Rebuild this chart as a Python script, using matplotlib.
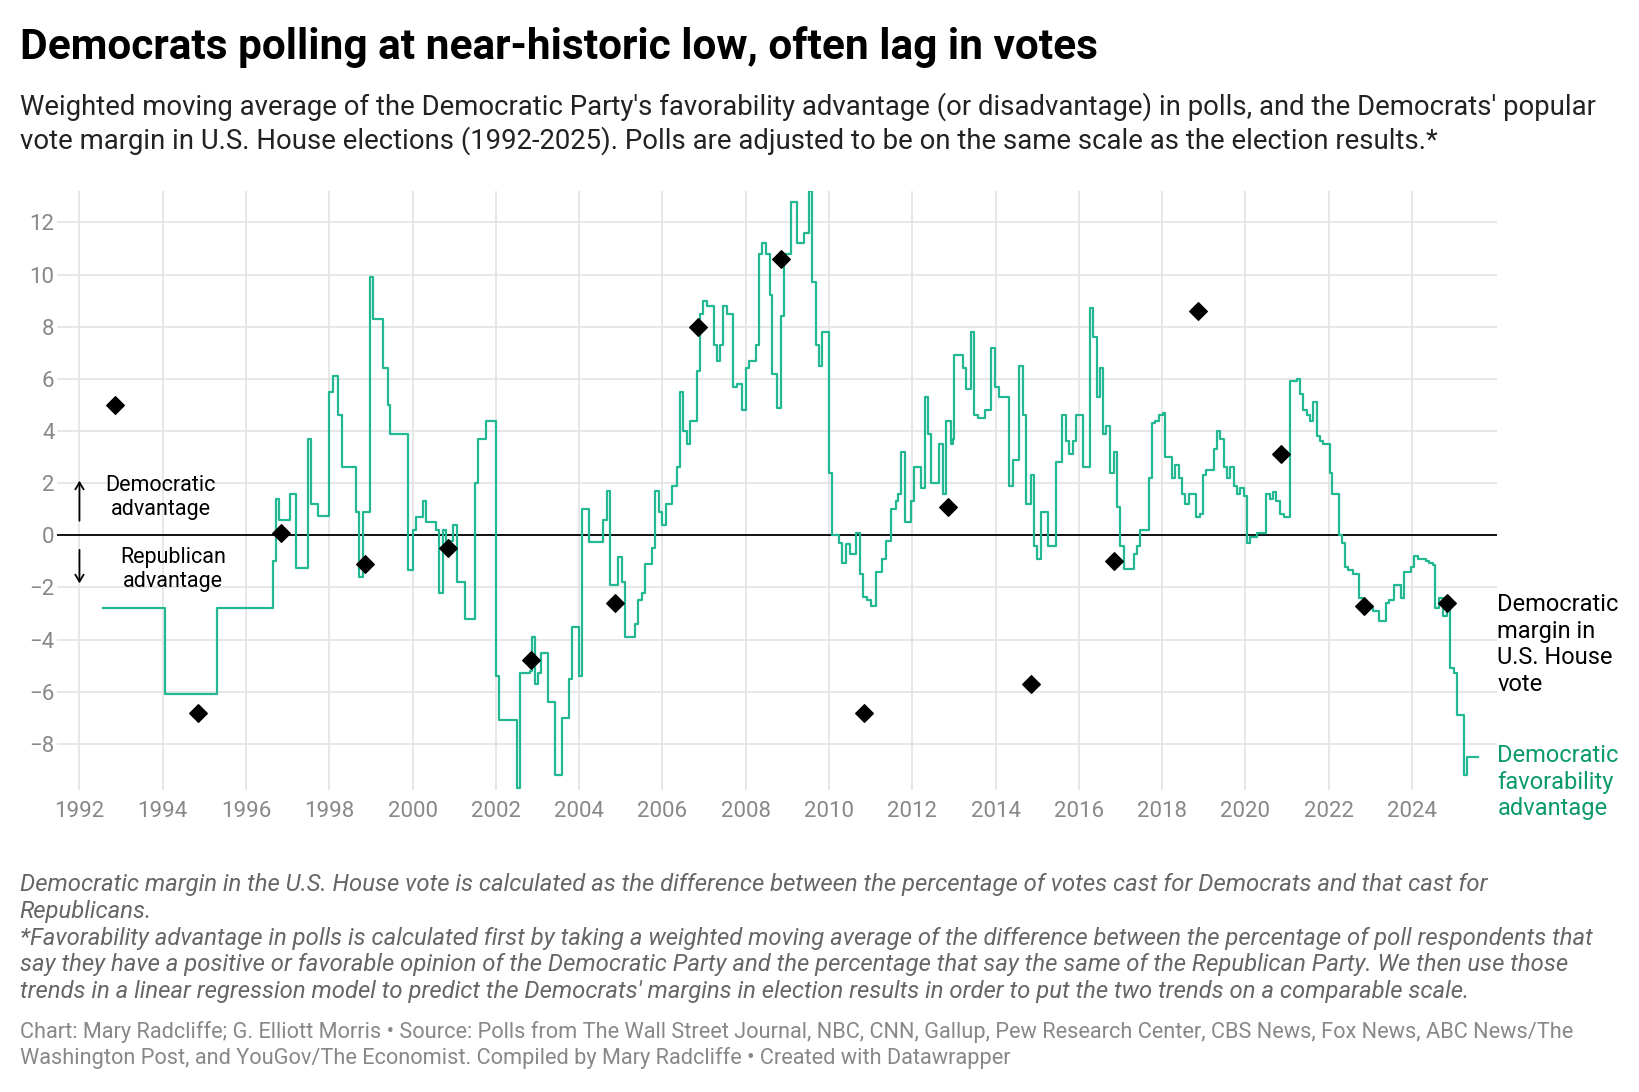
import numpy as np
import matplotlib.pyplot as plt

plt.rcParams['font.family'] = ['Roboto', 'DejaVu Sans']

# favorability advantage (weighted moving average): step breakpoints (year, value)
fav_points = [
    (1992.56, -2.8), (1994.06, -6.1), (1995.3, -2.8), (1996.64, -1.0), (1996.72, 1.4), (1996.8, 0.6),
    (1997.06, 1.6), (1997.2, -1.25), (1997.48, 3.7), (1997.56, 1.2), (1997.72, 0.75), (1998.0, 5.5),
    (1998.08, 6.1), (1998.22, 4.6), (1998.3, 2.6), (1998.64, 0.9), (1998.72, -1.6), (1998.8, 0.9),
    (1998.98, 9.9), (1999.06, 8.3), (1999.3, 6.4), (1999.4, 5.0), (1999.46, 3.9), (1999.9, -1.35),
    (2000.0, 0.2), (2000.08, 0.7), (2000.24, 1.3), (2000.32, 0.5), (2000.56, 0.2), (2000.64, -2.2),
    (2000.72, 0.2), (2000.8, -0.2), (2000.96, 0.4), (2001.07, -1.8), (2001.26, -3.2), (2001.5, 2.0),
    (2001.58, 3.7), (2001.76, 4.4), (2002.0, -5.4), (2002.08, -7.1), (2002.5, -9.7), (2002.58, -5.3),
    (2002.82, -5.2), (2002.87, -3.9), (2002.94, -5.7), (2003.0, -5.3), (2003.08, -4.5), (2003.24, -6.4),
    (2003.42, -9.2), (2003.58, -7.0), (2003.76, -5.5), (2003.84, -3.5), (2004.0, -5.4), (2004.08, 1.0),
    (2004.24, -0.25), (2004.58, 0.6), (2004.66, 1.7), (2004.75, -1.9), (2004.94, -0.85), (2005.02, -1.8),
    (2005.1, -3.9), (2005.34, -3.4), (2005.42, -2.5), (2005.5, -2.2), (2005.58, -1.1), (2005.76, -0.5),
    (2005.82, 1.7), (2005.92, 0.9), (2006.0, 0.4), (2006.08, 1.2), (2006.24, 1.9), (2006.34, 2.6),
    (2006.42, 5.5), (2006.5, 4.0), (2006.58, 3.5), (2006.67, 4.4), (2006.83, 6.3), (2006.91, 8.5),
    (2006.98, 9.0), (2007.06, 8.8), (2007.24, 7.3), (2007.3, 6.7), (2007.38, 7.3), (2007.46, 8.8),
    (2007.54, 8.5), (2007.7, 5.7), (2007.78, 5.8), (2007.9, 4.8), (2008.0, 6.4), (2008.08, 6.7),
    (2008.24, 7.3), (2008.32, 10.8), (2008.4, 11.2), (2008.48, 10.8), (2008.58, 9.2), (2008.64, 6.2),
    (2008.74, 4.9), (2008.84, 8.4), (2008.92, 10.8), (2009.08, 12.8), (2009.24, 11.2), (2009.4, 11.6),
    (2009.52, 13.2), (2009.6, 9.7), (2009.68, 7.3), (2009.76, 6.5), (2009.84, 7.8), (2010.0, 2.4),
    (2010.08, 0.0), (2010.24, -0.3), (2010.32, -1.05), (2010.42, -0.35), (2010.5, -0.7), (2010.66, 0.1),
    (2010.74, -1.5), (2010.82, -2.35), (2010.92, -2.5), (2011.0, -2.7), (2011.12, -1.4), (2011.28, -0.9),
    (2011.36, -0.2), (2011.5, 1.0), (2011.6, 1.3), (2011.66, 1.6), (2011.74, 3.2), (2011.82, 0.5),
    (2011.98, 1.3), (2012.04, 2.6), (2012.22, 1.8), (2012.3, 5.3), (2012.38, 3.9), (2012.46, 2.0),
    (2012.64, 3.5), (2012.74, 1.6), (2012.82, 4.4), (2012.92, 3.5), (2012.98, 3.7), (2013.0, 6.9),
    (2013.22, 6.4), (2013.3, 5.6), (2013.4, 7.8), (2013.48, 4.6), (2013.57, 4.5), (2013.74, 4.8),
    (2013.88, 7.2), (2013.98, 5.7), (2014.08, 5.3), (2014.32, 1.9), (2014.42, 2.9), (2014.56, 6.5),
    (2014.66, 4.6), (2014.74, 1.2), (2014.84, 2.3), (2014.92, -0.4), (2015.0, -0.9), (2015.1, 0.9),
    (2015.26, -0.4), (2015.44, 2.8), (2015.6, 4.6), (2015.68, 3.6), (2015.76, 3.1), (2015.86, 3.6),
    (2015.94, 4.6), (2016.1, 2.6), (2016.26, 8.7), (2016.34, 7.6), (2016.44, 5.3), (2016.52, 6.4),
    (2016.58, 3.9), (2016.66, 4.2), (2016.76, 2.4), (2016.84, 3.2), (2016.92, 1.1), (2017.0, -0.4),
    (2017.08, -1.3), (2017.32, -0.7), (2017.4, -0.4), (2017.48, 0.2), (2017.68, 2.2), (2017.76, 4.3),
    (2017.84, 4.4), (2017.92, 4.6), (2018.02, 4.7), (2018.08, 3.0), (2018.24, 2.2), (2018.32, 2.7),
    (2018.4, 2.2), (2018.48, 1.6), (2018.56, 1.2), (2018.64, 1.6), (2018.82, 0.7), (2018.9, 0.8),
    (2018.98, 2.3), (2019.06, 2.5), (2019.24, 3.3), (2019.32, 4.0), (2019.4, 3.7), (2019.48, 2.6),
    (2019.56, 2.2), (2019.64, 2.6), (2019.72, 1.9), (2019.8, 1.6), (2019.88, 1.8), (2019.96, 1.5),
    (2020.04, -0.3), (2020.12, -0.05), (2020.28, 0.1), (2020.5, 1.6), (2020.58, 1.4), (2020.66, 1.65),
    (2020.74, 1.3), (2020.82, 0.8), (2020.92, 0.7), (2021.07, 5.9), (2021.23, 6.0), (2021.31, 5.4),
    (2021.39, 4.8), (2021.47, 4.6), (2021.55, 4.4), (2021.63, 5.1), (2021.71, 3.8), (2021.79, 3.6),
    (2021.87, 3.5), (2022.02, 2.4), (2022.08, 1.6), (2022.24, 0.0), (2022.32, -0.3), (2022.38, -1.2),
    (2022.46, -1.35), (2022.58, -1.5), (2022.72, -2.4), (2022.82, -2.6), (2022.94, -2.8), (2023.06, -2.9),
    (2023.22, -3.3), (2023.38, -2.6), (2023.46, -2.5), (2023.58, -1.9), (2023.74, -2.4), (2023.82, -1.4),
    (2023.98, -1.2), (2024.06, -0.8), (2024.14, -0.9), (2024.34, -1.0), (2024.42, -1.05), (2024.5, -1.15),
    (2024.56, -2.8), (2024.66, -2.4), (2024.74, -3.1), (2024.84, -2.6), (2024.92, -5.1), (2025.0, -5.3),
    (2025.08, -6.9), (2025.24, -9.2), (2025.32, -8.5), (2025.58, -8.5),
]
fav_years = [p[0] for p in fav_points]
fav_values = [p[1] for p in fav_points]

# Democratic popular vote margin in U.S. House elections
vote_years = [1992, 1994, 1996, 1998, 2000, 2002, 2004, 2006, 2008, 2010, 2012, 2014, 2016, 2018, 2020, 2022, 2024]
vote_margin = [5.0, -6.8, 0.1, -1.1, -0.5, -4.8, -2.6, 8.0, 10.6, -6.8, 1.1, -5.7, -1.0, 8.6, 3.1, -2.7, -2.6]

green = '#22b894'
fig = plt.figure(figsize=(16.4, 10.92), dpi=100)
ax = fig.add_axes([0.035, 0.277, 0.878, 0.548])

ax.step(fav_years, fav_values, where='post', color=green, lw=1.6, zorder=3)
ax.scatter([y + 0.85 for y in vote_years], vote_margin, marker='D', s=80, color='black', zorder=4)
ax.axhline(0, color='black', lw=1.3, zorder=2)

ax.set_xlim(1991.47, 2026.05)
ax.set_ylim(-9.75, 13.2)
ax.set_xticks(range(1992, 2025, 2))
ax.set_yticks(range(-8, 13, 2))
ax.grid(color='#e3e3e3', lw=1.2)
for s in ax.spines.values():
    s.set_visible(False)
ax.tick_params(length=0, labelsize=16, colors='#888888', pad=8)
ax.tick_params(axis='y', pad=2)

# inline annotations
ax.annotate('', xy=(1992.0, 2.2), xytext=(1992.0, 0.45),
            arrowprops=dict(arrowstyle='->,head_length=0.5,head_width=0.3', color='black', lw=1.3))
ax.annotate('', xy=(1992.0, -1.95), xytext=(1992.0, -0.45),
            arrowprops=dict(arrowstyle='->,head_length=0.5,head_width=0.3', color='black', lw=1.3))
ax.text(1993.95, 1.45, 'Democratic\nadvantage', ha='center', va='center', fontsize=15.5, linespacing=1.2)
ax.text(1994.25, -1.3, 'Republican\nadvantage', ha='center', va='center', fontsize=15.5, linespacing=1.2)
ax.text(1.0, 0.242, 'Democratic\nmargin in\nU.S. House\nvote', transform=ax.transAxes,
        ha='left', va='center', fontsize=17, linespacing=1.2)
ax.text(1.0, 0.012, 'Democratic\nfavorability\nadvantage', transform=ax.transAxes,
        ha='left', va='center', fontsize=17, color='#0b9a6a', linespacing=1.2)

fig.text(0.012, 0.957, 'Democrats polling at near-historic low, often lag in votes',
         fontsize=30.5, fontweight='bold', va='center')
fig.text(0.012, 0.887, "Weighted moving average of the Democratic Party's favorability advantage (or disadvantage) in polls, and the Democrats' popular\n"
         "vote margin in U.S. House elections (1992-2025). Polls are adjusted to be on the same scale as the election results.*",
         fontsize=19.8, va='center', color='#222222', linespacing=1.25)
fig.text(0.012, 0.141,
         "Democratic margin in the U.S. House vote is calculated as the difference between the percentage of votes cast for Democrats and that cast for\n"
         "Republicans.\n"
         "*Favorability advantage in polls is calculated first by taking a weighted moving average of the difference between the percentage of poll respondents that\n"
         "say they have a positive or favorable opinion of the Democratic Party and the percentage that say the same of the Republican Party. We then use those\n"
         "trends in a linear regression model to predict the Democrats' margins in election results in order to put the two trends on a comparable scale.",
         fontsize=17.2, style='italic', color='#666666', va='center', linespacing=1.22)
fig.text(0.012, 0.043,
         "Chart: Mary Radcliffe; G. Elliott Morris \u2022 Source: Polls from The Wall Street Journal, NBC, CNN, Gallup, Pew Research Center, CBS News, Fox News, ABC News/The\n"
         "Washington Post, and YouGov/The Economist. Compiled by Mary Radcliffe \u2022 Created with Datawrapper",
         fontsize=15.7, color='#888888', va='center', linespacing=1.25)

fig.savefig('out.png', dpi=100, facecolor='white')
